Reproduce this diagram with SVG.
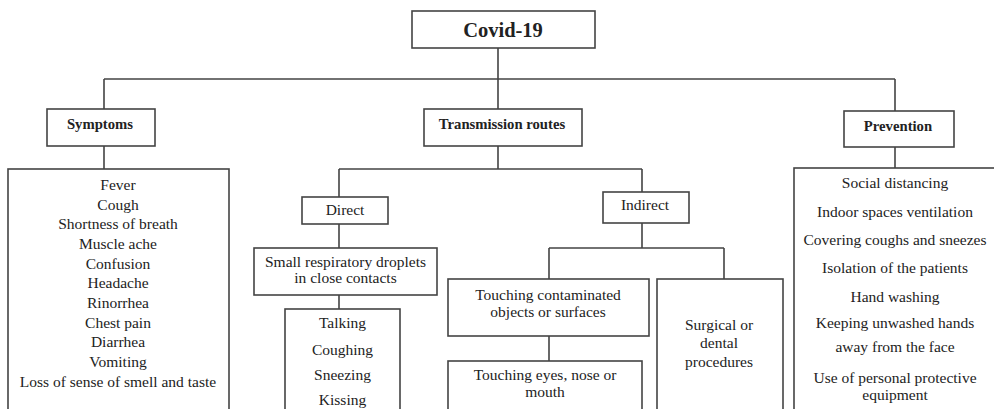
<svg xmlns="http://www.w3.org/2000/svg" width="994" height="409" viewBox="0 0 994 409">
<style>
.b{fill:#fff;stroke:#444;stroke-width:1.6}
.c{fill:none;stroke:#444;stroke-width:1.6}
text{font-family:"Liberation Serif","Times New Roman",serif;font-size:15.5px;fill:#222;text-anchor:middle}
.h{font-weight:bold}
</style>
<rect width="994" height="409" fill="#fff"/>
<g id="connectors">
<path class="c" d="M498 48V79M104 79H895M104 79V109M498 79V109M895 79V111"/>
<path class="c" d="M104 146V169M498 146V169M339 169H642M339 169V197M642 169V192"/>
<path class="c" d="M339 224V248M339 295V309"/>
<path class="c" d="M642 223V248M549 248H724M549 248V279M724 248V279M549 336V361"/>
<path class="c" d="M895 147V168"/>
</g>
<g id="covid"><rect class="b" x="412" y="11" width="183" height="37"/><text class="h" x="503" y="37" style="font-size:20.5px">Covid-19</text></g>
<g id="symptoms"><rect class="b" x="47" y="109" width="108" height="37"/><text class="h" x="100" y="129" style="font-size:14.7px">Symptoms</text></g>
<g id="transmission"><rect class="b" x="424" y="109" width="158" height="37"/><text class="h" x="502" y="129" style="font-size:14.7px">Transmission routes</text></g>
<g id="prevention"><rect class="b" x="844" y="111" width="110" height="36"/><text class="h" x="898" y="131" style="font-size:14.7px">Prevention</text></g>
<g id="symptom-list"><rect class="b" x="8" y="169" width="221" height="260"/>
<text x="118" y="190">Fever</text>
<text x="118" y="209.7">Cough</text>
<text x="118" y="229.3">Shortness of breath</text>
<text x="118" y="249">Muscle ache</text>
<text x="118" y="268.6">Confusion</text>
<text x="118" y="288.3">Headache</text>
<text x="118" y="307.9">Rinorrhea</text>
<text x="118" y="327.6">Chest pain</text>
<text x="118" y="347.2">Diarrhea</text>
<text x="118" y="366.9">Vomiting</text>
<text x="118" y="386.5">Loss of sense of smell and taste</text>
</g>
<g id="direct"><rect class="b" x="302" y="197" width="86" height="27"/><text x="345" y="215">Direct</text></g>
<g id="droplets"><rect class="b" x="254" y="248" width="183" height="47"/><text x="345.5" y="266.5">Small respiratory droplets</text><text x="345.5" y="283">in close contacts</text></g>
<g id="direct-list"><rect class="b" x="285" y="309" width="115" height="120"/>
<text x="342.5" y="328">Talking</text>
<text x="342.5" y="355">Coughing</text>
<text x="342.5" y="380">Sneezing</text>
<text x="342.5" y="405">Kissing</text>
</g>
<g id="indirect"><rect class="b" x="603" y="192" width="86" height="31"/><text x="645" y="210">Indirect</text></g>
<g id="touching-objects"><rect class="b" x="448" y="279" width="201" height="57"/><text x="548" y="300">Touching contaminated</text><text x="548" y="317">objects or surfaces</text></g>
<g id="touching-face"><rect class="b" x="448" y="361" width="194" height="70"/><text x="545" y="380">Touching eyes, nose or</text><text x="545" y="397">mouth</text></g>
<g id="surgical"><rect class="b" x="657" y="279" width="126" height="150"/><text x="719" y="330">Surgical or</text><text x="719" y="348">dental</text><text x="719" y="366.5">procedures</text></g>
<g id="prevention-list"><rect class="b" x="794" y="168" width="220" height="260"/>
<text x="895" y="188">Social distancing</text>
<text x="895" y="216.5">Indoor spaces ventilation</text>
<text x="895" y="245">Covering coughs and sneezes</text>
<text x="895" y="273">Isolation of the patients</text>
<text x="895" y="301.5">Hand washing</text>
<text x="895" y="328">Keeping unwashed hands</text>
<text x="895" y="352">away from the face</text>
<text x="895" y="383">Use of personal protective</text>
<text x="895" y="400">equipment</text>
</g>
</svg>
